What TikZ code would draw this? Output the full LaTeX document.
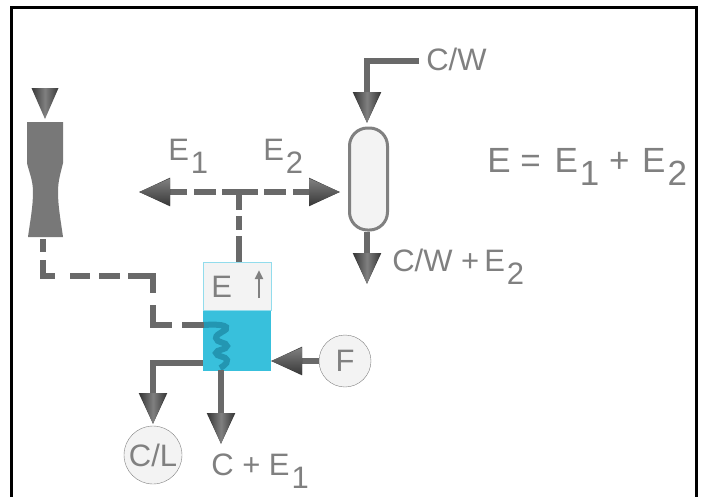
\documentclass[tikz,border=0pt]{standalone}
\usepackage{fontspec}
\setmainfont{Liberation Sans}
\usetikzlibrary{arrows.meta, positioning, calc}

\newcommand{\lowdigit}[1]{\kern2pt\raisebox{-13pt}{#1}}
\newcommand{\downhead}[1]{\shade[left color=headgray, right color=headgray, middle color=headlight] ($(#1)+(-13.5,-31)$) -- ($(#1)+(13.5,-31)$) -- (#1) -- cycle;}
\newcommand{\sidehead}[2]{\shade[top color=headlight, bottom color=headgray] ($(#1)+(#2,-13.5)$) -- ($(#1)+(#2,13.5)$) -- (#1) -- cycle;}

\definecolor{labelgray}{HTML}{808080}
\definecolor{pipegray}{HTML}{696969}
\definecolor{headgray}{HTML}{383838}
\definecolor{headlight}{HTML}{808080}
\definecolor{discgray}{HTML}{F3F3F3}
\definecolor{watercyan}{HTML}{38C0DC}
\definecolor{coilblue}{HTML}{2396B2}

\begin{document}
\begin{tikzpicture}[
    x = 1pt,
    y = -1pt,
    > = {Triangle[length=31pt, width=27pt, color=headgray]},
    semithick
]

% Setup the styles
\tikzstyle{tag}=[text=labelgray, font=\fontsize{31}{31}\selectfont, inner sep=0pt, anchor=base west]
\tikzstyle{pipe}=[draw=pipegray, line width=5.5pt]
\tikzstyle{flow}=[pipe, ->]
\tikzstyle{disc}=[draw=labelgray, thin, fill=discgray, circle, inner sep=0pt, text=labelgray, font=\fontsize{31}{31}\selectfont]

\useasboundingbox (0,0) rectangle (701,496);

% Draw the frame
\draw[black, line width=3pt] (11.5,7.5) rectangle (696.5,500);

% Draw the tank
\node[draw=watercyan!55, thin, fill=discgray, minimum width=68pt, minimum height=48pt, inner sep=0pt] (space) at (237,286) {};
\node[fill=watercyan, minimum width=68pt, minimum height=60pt, inner sep=0pt, below=0pt of space] (tank) {};
\node[tag] (E) at (211,297) {E};
\coordinate (riseA) at (259,298);
\coordinate (riseB) at (259,270);
\draw[draw=labelgray, line width=2.5pt, -{Triangle[length=9pt, width=8pt]}] (riseA) -- (riseB);

% Draw the column
\fill[pipegray!90!white] (27,122) -- (63,122) -- (63,163) .. controls (61,172) and (58,180) .. (58,192) .. controls (58,207) and (61,222) .. (63,237) -- (28,237) .. controls (30,222) and (33,207) .. (33,192) .. controls (33,180) and (29,172) .. (27,163) -- cycle;
\coordinate (feed) at (45,119);
\downhead{feed}

% Draw the drum
\node[draw=labelgray, line width=3pt, fill=discgray, rounded corners=18pt, minimum width=38pt, minimum height=102pt, inner sep=0pt] (drum) at (368.5,179) {};

% Draw the discs
\node[disc, minimum size=52pt] (F) at (345,361) {F};
\node[disc, minimum size=58pt] (CL) at (153,455) {C/L};

% Draw the free ends
\coordinate (split) at (239,192);
\coordinate (left) at (139,192);
\coordinate (right) at (340,192);
\coordinate (inW) at (419,61);
\coordinate (tipW) at (367,123);
\coordinate (tipD) at (367,284);
\coordinate (outC) at (221,370);
\coordinate (tipC) at (221,444);
\coordinate (tipL) at (153,424);
\coordinate (tipF) at (271,361);
\coordinate (coilA) at (204,325);

% Draw the dashed lines
\draw[pipe, dash pattern=on 13pt off 8pt on 28pt off 15pt on 20pt off 9pt on 21pt off 8pt on 42pt off 12pt on 39pt off 10pt on 30pt] (43,239) |- (153,276) |- (coilA);
\draw[pipe, dash pattern=on 18pt off 6pt on 14pt off 6pt on 40pt] (split) -- (space.north -| split);
\draw[flow, dash pattern=on 17pt off 6pt on 22pt off 7pt on 60pt] (split) -- (left);
\draw[flow, dash pattern=on 19pt off 6pt on 22pt off 7pt on 60pt] (split) -- (right);

% Draw the coil
\draw[coilblue, line width=6pt] plot[smooth, tension=1] coordinates {(coilA) (226,327) (216,338) (227,346) (216,353) (227,360) (220,368)};

% Draw the solid lines
\draw[flow] (inW) -| (tipW);
\draw[flow] (drum.south -| tipD) -- (tipD);
\draw[flow] (outC) -- (tipC);
\draw[flow] (tank.west |- 0,363) -| (tipL);
\draw[flow] (F) -- (tipF);

% Shade the heads
\downhead{tipW}
\downhead{tipD}
\downhead{tipC}
\downhead{tipL}
\sidehead{left}{31}
\sidehead{right}{-31}
\sidehead{tipF}{31}

% Draw the labels
\node[tag] (cw) at (426,70) {C/W};
\node[tag] (cwsum) at (392,271) {C/W +\hspace{5pt}E\lowdigit{2}};
\node[tag] (Ea) at (168,160) {E\lowdigit{1}};
\node[tag] (Eb) at (263,160) {E\lowdigit{2}};
\node[tag, font=\fontsize{35}{35}\selectfont] (sum) at (487,172) {E = \hspace{4pt}E\lowdigit{1} + \hspace{3pt}E\lowdigit{2}};
\node[tag] (C) at (211,475) {C + E\lowdigit{1}};

\end{tikzpicture}
\end{document}
